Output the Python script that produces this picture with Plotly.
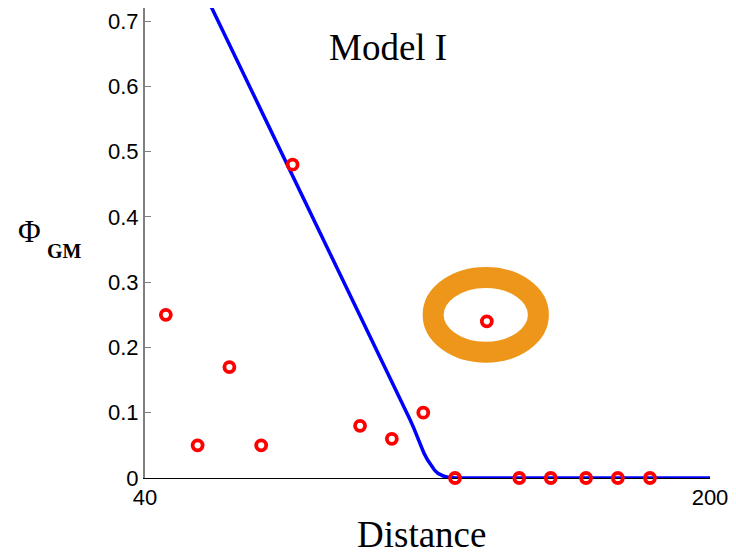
import plotly.graph_objects as go

# Model curve (blue line)
curve_x = [55, 60, 65, 70, 75, 80, 85, 90, 95, 100, 105, 110, 113, 115, 116, 117, 118,
           119, 120, 121, 122, 123, 124.5, 126, 128, 200]
curve_y = [0.764, 0.708, 0.652, 0.596, 0.540, 0.484, 0.428, 0.372, 0.316, 0.260, 0.204,
           0.148, 0.115, 0.090, 0.078, 0.064, 0.050, 0.038, 0.028, 0.019, 0.012, 0.007,
           0.003, 0.001, 0.0, 0.0]

# Observed data (red circles)
obs_x = [45.9, 54.9, 63.9, 72.9, 81.8, 100.9, 109.9, 118.8, 127.8, 136.8,
         146.0, 154.9, 164.9, 173.9, 183.0]
obs_y = [0.25, 0.05, 0.17, 0.05, 0.48, 0.08, 0.06, 0.10, 0.0, 0.24,
         0.0, 0.0, 0.0, 0.0, 0.0]

# Highlighted point (orange hand-drawn ring)
ring_center = (136.5, 0.25)
ring_half = (14.9, 0.0573)

x_ticks = [40, 200]
y_ticks = [0, 0.1, 0.2, 0.3, 0.4, 0.5, 0.6, 0.7]
y_tick_text = ["0", "0.1", "0.2", "0.3", "0.4", "0.5", "0.6", "0.7"]

fig = go.Figure()
fig.add_trace(go.Scatter(x=curve_x, y=curve_y, mode="lines",
                         line=dict(color="#0000FF", width=3.5), hoverinfo="skip"))
fig.add_trace(go.Scatter(x=obs_x, y=obs_y, mode="markers", cliponaxis=False,
                         marker=dict(symbol="circle-open", size=10, color="#FF0000",
                                     line=dict(width=3.8, color="#FF0000"))))

fig.add_shape(type="circle", xref="x", yref="y",
              x0=ring_center[0] - ring_half[0], x1=ring_center[0] + ring_half[0],
              y0=ring_center[1] - ring_half[1], y1=ring_center[1] + ring_half[1],
              line=dict(color="#EE9619", width=21))

serif = "Liberation Serif, Times New Roman, serif"
sans = "Liberation Sans, Arial, sans-serif"

fig.add_annotation(text="Model I", xref="paper", yref="paper", x=0.43, y=0.917,
                   xanchor="center", yanchor="middle", showarrow=False,
                   font=dict(family=serif, size=37, color="black"))
fig.add_annotation(text="Distance", xref="paper", yref="paper", x=0.4885, y=-0.12,
                   xanchor="center", yanchor="middle", showarrow=False,
                   font=dict(family=serif, size=37, color="black"))
fig.add_annotation(text="Φ", xref="paper", yref="paper", x=-0.204, y=0.524,
                   xanchor="center", yanchor="middle", showarrow=False,
                   font=dict(family=serif, size=31, color="black"))
fig.add_annotation(text="<b>GM</b>", xref="paper", yref="paper", x=-0.1416, y=0.483,
                   xanchor="center", yanchor="middle", showarrow=False,
                   font=dict(family=serif, size=20, color="black"))

fig.update_layout(
    width=736, height=553,
    margin=dict(l=145, r=26, t=8, b=75),
    paper_bgcolor="white", plot_bgcolor="white",
    showlegend=False,
    xaxis=dict(range=[40, 200], tickvals=x_ticks, ticktext=[str(v) for v in x_ticks],
               showgrid=False, zeroline=False, showline=True, linecolor="black",
               linewidth=1, ticks="inside", ticklen=7, tickcolor="#808080",
               tickfont=dict(family=sans, size=22, color="black"),
               layer="below traces"),
    yaxis=dict(range=[0, 0.72], tickvals=y_ticks, ticktext=y_tick_text,
               showgrid=False, zeroline=False, showline=True, linecolor="#808080",
               linewidth=2, ticks="inside", ticklen=6, tickcolor="#808080",
               tickfont=dict(family=sans, size=22, color="black")),
)

fig.write_html("out.html")
